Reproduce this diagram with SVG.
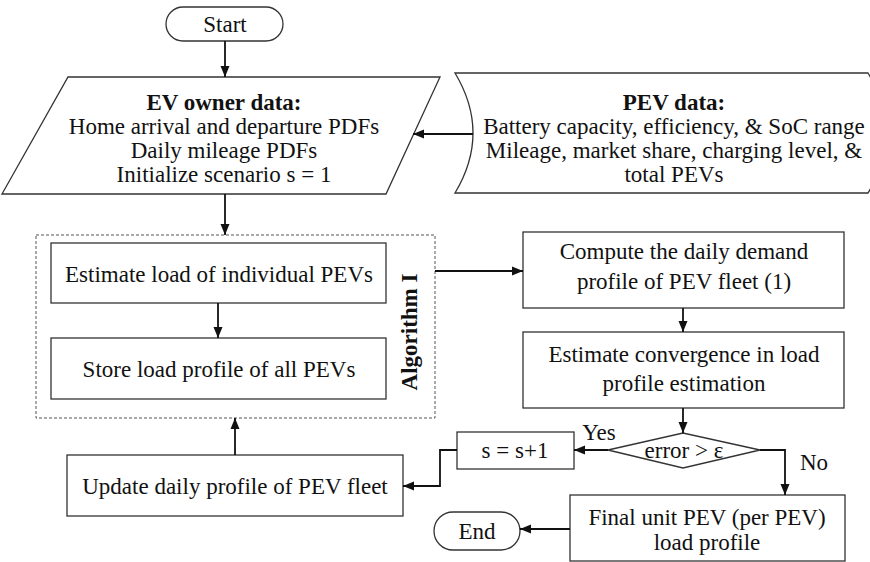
<svg xmlns="http://www.w3.org/2000/svg" width="870" height="562" viewBox="0 0 870 562">
<style>
.shape{fill:#fff;stroke:#333;stroke-width:1.3}
.dash{fill:none;stroke:#555;stroke-width:1;stroke-dasharray:3 2}
.t{font-family:"Liberation Serif","Times New Roman",serif;font-size:23px;fill:#111;text-anchor:middle}
.b{font-weight:bold}
.conn path{fill:none;stroke:#111;stroke-width:1.8;marker-end:url(#arr)}
</style>
<defs>
<marker id="arr" markerUnits="userSpaceOnUse" markerWidth="12" markerHeight="10" refX="11" refY="5" orient="auto">
<path d="M0,0.5 L11,5 L0,9.5 Z" fill="#111"/>
</marker>
</defs>
<rect width="870" height="562" fill="#fff"/>

<g id="start">
<rect class="shape" x="166" y="7" width="117" height="34" rx="17"/>
<text class="t" x="225" y="32">Start</text>
</g>

<g id="ev-owner-data">
<path class="shape" d="M68,77 L440,77 L386,194 L2,194 Z"/>
<text class="t b" x="224" y="110">EV owner data:</text>
<text class="t" x="224" y="134">Home arrival and departure PDFs</text>
<text class="t" x="224" y="158">Daily mileage PDFs</text>
<text class="t" x="224" y="182">Initialize scenario s = 1</text>
</g>

<g id="pev-data">
<path class="shape" d="M455,73 L868,73 Q904,133 868,193 L455,193 Q491,133 455,73 Z"/>
<text class="t b" x="674" y="110">PEV data:</text>
<text class="t" x="674" y="134">Battery capacity, efficiency, &amp; SoC range</text>
<text class="t" x="674" y="158">Mileage, market share, charging level, &amp;</text>
<text class="t" x="674" y="182">total PEVs</text>
</g>

<g id="algorithm-1">
<rect class="dash" x="36" y="235" width="399" height="183"/>
<text class="t b" transform="translate(417,332) rotate(-90)">Algorithm I</text>
</g>

<g id="estimate-load">
<rect class="shape" x="51" y="243" width="335" height="60"/>
<text class="t" x="219" y="282">Estimate load of individual PEVs</text>
</g>

<g id="store-load">
<rect class="shape" x="51" y="338" width="335" height="61"/>
<text class="t" x="219" y="377">Store load profile of all PEVs</text>
</g>

<g id="compute-demand">
<rect class="shape" x="523" y="232" width="321" height="76"/>
<text class="t" x="684" y="259">Compute the daily demand</text>
<text class="t" x="684" y="289">profile of PEV fleet (1)</text>
</g>

<g id="estimate-convergence">
<rect class="shape" x="523" y="332" width="321" height="76"/>
<text class="t" x="684" y="362">Estimate convergence in load</text>
<text class="t" x="684" y="391">profile estimation</text>
</g>

<g id="error-check">
<path class="shape" d="M608,450 L683,433 L760,450 L683,468 Z"/>
<text class="t" x="684" y="458">error &gt; ε</text>
</g>

<g id="increment">
<rect class="shape" x="457" y="432" width="117" height="37"/>
<text class="t" x="515" y="458">s = s+1</text>
</g>

<g id="update-profile">
<rect class="shape" x="67" y="455" width="336" height="61"/>
<text class="t" x="235" y="494">Update daily profile of PEV fleet</text>
</g>

<g id="final-profile">
<rect class="shape" x="570" y="495" width="275" height="66"/>
<text class="t" x="707" y="525">Final unit PEV (per PEV)</text>
<text class="t" x="707" y="550">load profile</text>
</g>

<g id="end">
<rect class="shape" x="434" y="512" width="86" height="38" rx="19"/>
<text class="t" x="477" y="539">End</text>
</g>

<g id="connectors" class="conn">
<path d="M225,41 V77"/>
<path d="M473,134 H413"/>
<path d="M225,194 V235"/>
<path d="M218,303 V338"/>
<path d="M435,271 H523"/>
<path d="M683,308 V332"/>
<path d="M683,408 V433"/>
<path d="M608,450 H574"/>
<path d="M760,450 H785 V495"/>
<path d="M457,450 H440 V486 H403"/>
<path d="M235,455 V418"/>
<path d="M570,529 H520"/>
</g>
<g id="labels">
<text class="t" x="599" y="440">Yes</text>
<text class="t" x="814" y="470">No</text>
</g>
</svg>
